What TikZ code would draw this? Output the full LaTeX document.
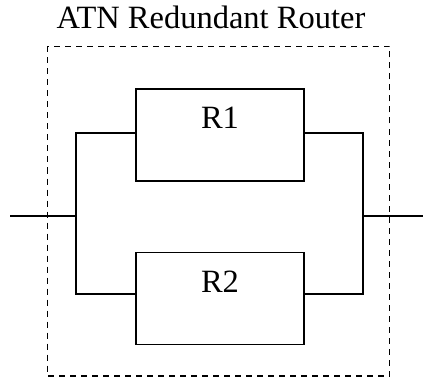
\documentclass[tikz,border=0pt]{standalone}
\usepackage{fontspec}
\setmainfont{Liberation Serif}
\begin{document}
\begin{tikzpicture}[x=1pt,y=-1pt,
  wire/.style={line width=1.5pt},
  boxst/.style={draw,line width=1.5pt,minimum width=168pt,minimum height=92pt,inner sep=0pt,outer sep=0pt},
  lbl/.style={font=\fontsize{32.5}{36}\selectfont,inner sep=0pt,anchor=base},
  frame/.style={draw,line width=1.8pt,dash pattern=on 6pt off 5pt}]
\useasboundingbox (0,0) rectangle (423,377);
\node[lbl] (title) at (211,28.5) {ATN Redundant Router};
\draw[frame] (47.5,46.5) rectangle (389.5,376);
\node[boxst] (r1) at (220,135) {};
\node[boxst] (r2) at (220,298.5) {};
\node[lbl] (t1) at (220,129) {R1};
\node[lbl] (t2) at (220,292) {R2};
\coordinate (lt) at (76,133);
\coordinate (lb) at (76,294);
\coordinate (lm) at (76,216);
\coordinate (rt) at (363,133);
\coordinate (rb) at (363,294);
\coordinate (rm) at (363,216);
\coordinate (inL) at (10,216);
\coordinate (outR) at (423,216);
\draw[wire] (r1.west |- lt) -- (lt) -- (lb) -- (r2.west |- lb);
\draw[wire] (r1.east |- rt) -- (rt) -- (rb) -- (r2.east |- rb);
\draw[wire] (inL) -- (lm);
\draw[wire] (rm) -- (outR);
\end{tikzpicture}
\end{document}
